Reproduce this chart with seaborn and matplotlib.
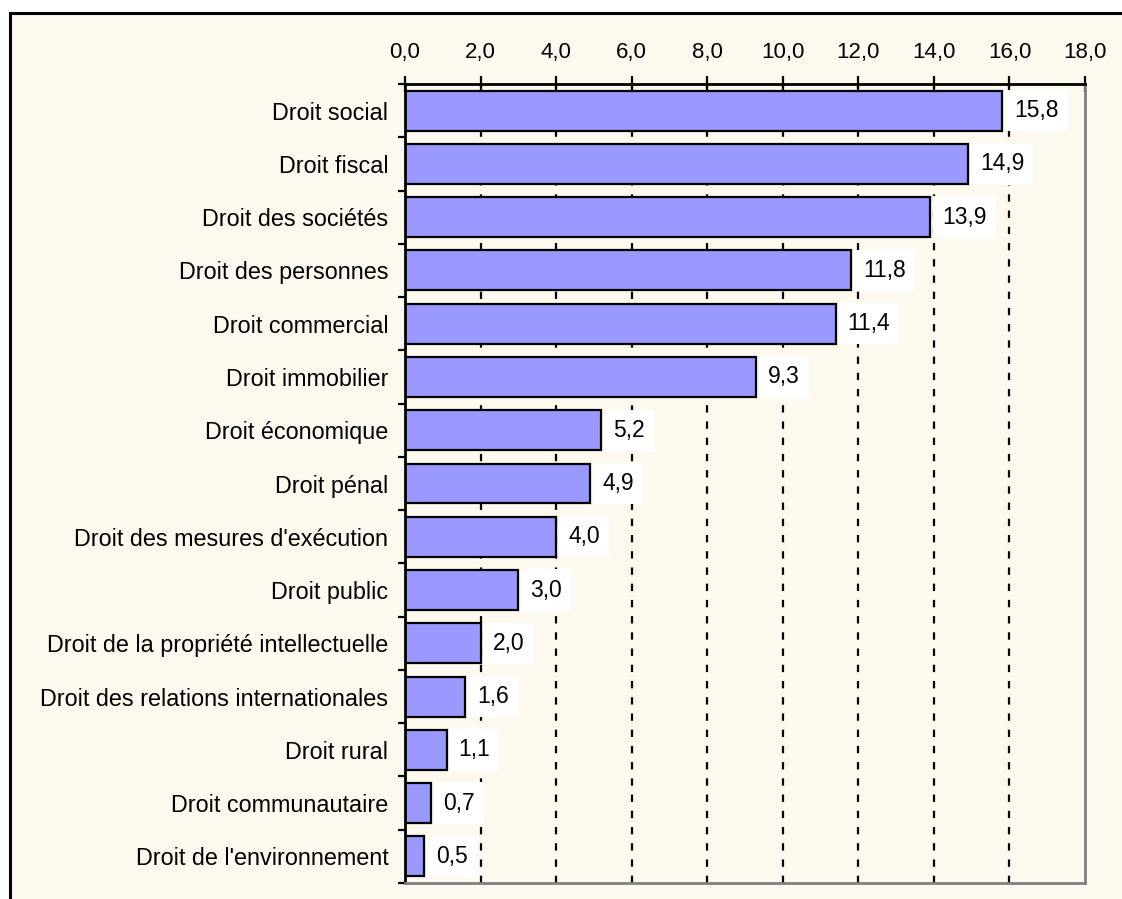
import matplotlib
matplotlib.use("Agg")
import matplotlib.pyplot as plt
import matplotlib.ticker as mticker
from matplotlib.patches import Rectangle
import seaborn as sns
import pandas as pd

categories = [
    "Droit social", "Droit fiscal", "Droit des sociétés", "Droit des personnes",
    "Droit commercial", "Droit immobilier", "Droit économique", "Droit pénal",
    "Droit des mesures d'exécution", "Droit public",
    "Droit de la propriété intellectuelle", "Droit des relations internationales",
    "Droit rural", "Droit communautaire", "Droit de l'environnement",
]
values = [15.8, 14.9, 13.9, 11.8, 11.4, 9.3, 5.2, 4.9, 4.0, 3.0, 2.0, 1.6, 1.1, 0.7, 0.5]
x_ticks = [0, 2, 4, 6, 8, 10, 12, 14, 16, 18]

sns.set_theme(style="white")
plt.rcParams['font.family'] = ['Liberation Sans', 'DejaVu Sans']

cream = '#FEF9EE'
FS = 16
W, H = 1122, 899
fig = plt.figure(figsize=(W / 100, H / 100), dpi=100, facecolor='white')

# outer frame
frame = Rectangle((10 / W, -0.2), 1.2, 1.2 - 13 / H, transform=fig.transFigure,
                  facecolor=cream, edgecolor='black', linewidth=2.2, zorder=-1)
fig.patches.append(frame)

ax = fig.add_axes([405 / W, 1 - 883 / H, (1085 - 405) / W, (883 - 84) / H])
ax.set_zorder(1)
ax.set_facecolor(cream)

df = pd.DataFrame({"cat": categories, "val": values})
sns.barplot(data=df, x="val", y="cat", orient="h", color="#9999FF", saturation=1,
            edgecolor="black", linewidth=1.6, width=0.75, ax=ax, zorder=3)

ax.set_xlim(0, 18)
ax.set_ylim(len(categories) - 0.5, -0.5)
ax.set_xlabel("")
ax.set_ylabel("")

# x axis on top
ax.xaxis.set_ticks_position('top')
ax.xaxis.set_label_position('top')
ax.set_xticks(x_ticks)
ax.set_xticklabels([f"{t:.1f}".replace('.', ',') for t in x_ticks])
ax.tick_params(axis='x', which='major', direction='inout', length=12, width=1.6,
               color='black', labelsize=FS, pad=9, labelcolor='black',
               top=True, bottom=False)

# y axis
ax.tick_params(axis='y', which='major', length=0, labelsize=16.8, pad=12, labelcolor='black')
ax.yaxis.set_minor_locator(mticker.FixedLocator([i - 0.5 for i in range(len(categories) + 1)]))
ax.tick_params(axis='y', which='minor', direction='out', length=5, width=1.6,
               color='black', left=True)

# grid
ax.grid(False)
ax.xaxis.grid(True, which='major', color='black', linewidth=1.6, linestyle=(0, (3.3, 4.0)), zorder=1)
ax.set_axisbelow(True)
gl = ax.xaxis.get_gridlines()
gl[0].set_visible(False)
gl[-1].set_visible(False)

# spines
for s in ['top', 'left']:
    ax.spines[s].set_color('black')
    ax.spines[s].set_linewidth(2.0)
for s in ['right', 'bottom']:
    ax.spines[s].set_color('#808080')
    ax.spines[s].set_linewidth(2.0)
for s in ax.spines.values():
    s.set_visible(True)
    s.set_zorder(5)

# value labels
for i, v in enumerate(values):
    ax.annotate(f"{v:.1f}".replace('.', ','), xy=(v, i), xytext=(12, 0),
                textcoords='offset pixels', ha='left', va='center', fontsize=16.5,
                color='black', zorder=4,
                bbox=dict(boxstyle='square,pad=0.4', facecolor='white', edgecolor='none'))

fig.savefig("out.png", dpi=100, facecolor='white')
